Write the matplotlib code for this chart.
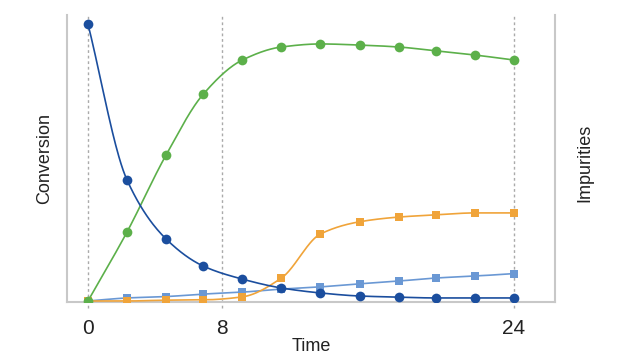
import numpy as np
import matplotlib
matplotlib.use("Agg")
import matplotlib.pyplot as plt

# time points of the samples (hours)
time = [0, 2.2, 4.4, 6.5, 8.7, 10.9, 13.1, 15.3, 17.5, 19.6, 21.8, 24]

# series (arbitrary units, 0-100)
starting_material = [100, 43.7, 22.4, 12.6, 7.9, 4.7, 2.9, 1.8, 1.4, 1.1, 1.1, 1.1]
product = [0, 24.9, 52.7, 74.7, 87.0, 91.7, 92.8, 92.4, 91.7, 90.3, 88.8, 87.0]
impurity_a = [0, 0, 0.3, 0.4, 1.5, 8.3, 24.2, 28.6, 30.3, 31.1, 31.8, 31.8]
impurity_b = [0, 1.1, 1.6, 2.5, 3.2, 4.3, 5.1, 6.2, 7.2, 8.3, 9.0, 9.9]

tick_pos = [0, 7.55, 24]
tick_labels = ["0", "8", "24"]


def pchip(x, y, xs):
    # monotone cubic hermite, keeps the curve from overshooting
    x = np.asarray(x, float)
    y = np.asarray(y, float)
    h = np.diff(x)
    d = np.diff(y) / h
    m = np.zeros_like(y)
    for k in range(1, len(x) - 1):
        if d[k - 1] * d[k] > 0:
            w1 = 2 * h[k] + h[k - 1]
            w2 = h[k] + 2 * h[k - 1]
            m[k] = (w1 + w2) / (w1 / d[k - 1] + w2 / d[k])
    m[0] = d[0]
    m[-1] = d[-1]
    idx = np.clip(np.searchsorted(x, xs) - 1, 0, len(x) - 2)
    t = (xs - x[idx]) / h[idx]
    h00 = 2 * t**3 - 3 * t**2 + 1
    h10 = t**3 - 2 * t**2 + t
    h01 = -2 * t**3 + 3 * t**2
    h11 = t**3 - t**2
    return (h00 * y[idx] + h10 * h[idx] * m[idx]
            + h01 * y[idx + 1] + h11 * h[idx] * m[idx + 1])


plt.rcParams["font.family"] = ["Liberation Sans", "DejaVu Sans"]

fig = plt.figure(figsize=(6.4, 3.6), dpi=100)
ax = fig.add_axes([67 / 640, 58 / 360, 488 / 640, 287 / 360])

xs = np.linspace(0, 24, 400)
series = [
    (impurity_b, "#6a98d4", "s", 5.5),
    (impurity_a, "#f0a43a", "s", 5.5),
    (product, "#5cb04a", "o", 7),
    (starting_material, "#1b4e9e", "o", 7),
]
for vals, col, mk, ms in series:
    ax.plot(xs, pchip(time, vals, xs), color=col, lw=1.2, zorder=3)
    ax.plot(time, vals, linestyle="none", marker=mk, ms=ms, color=col,
            markeredgewidth=0, zorder=4)

for p in tick_pos:
    ax.axvline(p, ymin=-0.022, ymax=1, color="#aaaaaa", lw=1,
               linestyle=(0, (2, 2)), clip_on=False, zorder=1)

ax.set_xlim(-1.18, 26.31)
ax.set_ylim(-0.36, 103.25)

ax.set_xticks(tick_pos)
ax.set_xticklabels(tick_labels, fontsize=15, color="#222222")
ax.tick_params(axis="x", length=0, pad=12)
ax.set_yticks([])

for s in ["left", "right", "bottom"]:
    ax.spines[s].set_color("#c8c8c8")
    ax.spines[s].set_linewidth(1.5)
ax.spines["top"].set_visible(False)

ax.set_xlabel("Time", fontsize=13, color="#222222", labelpad=0)
ax.set_ylabel("Conversion", fontsize=13, color="#222222", labelpad=10)
fig.text(585 / 640, 1 - 163 / 360, "Impurities", rotation=90, fontsize=13,
         color="#222222", ha="center", va="center")

fig.savefig("out.png", dpi=100)
plt.close(fig)
